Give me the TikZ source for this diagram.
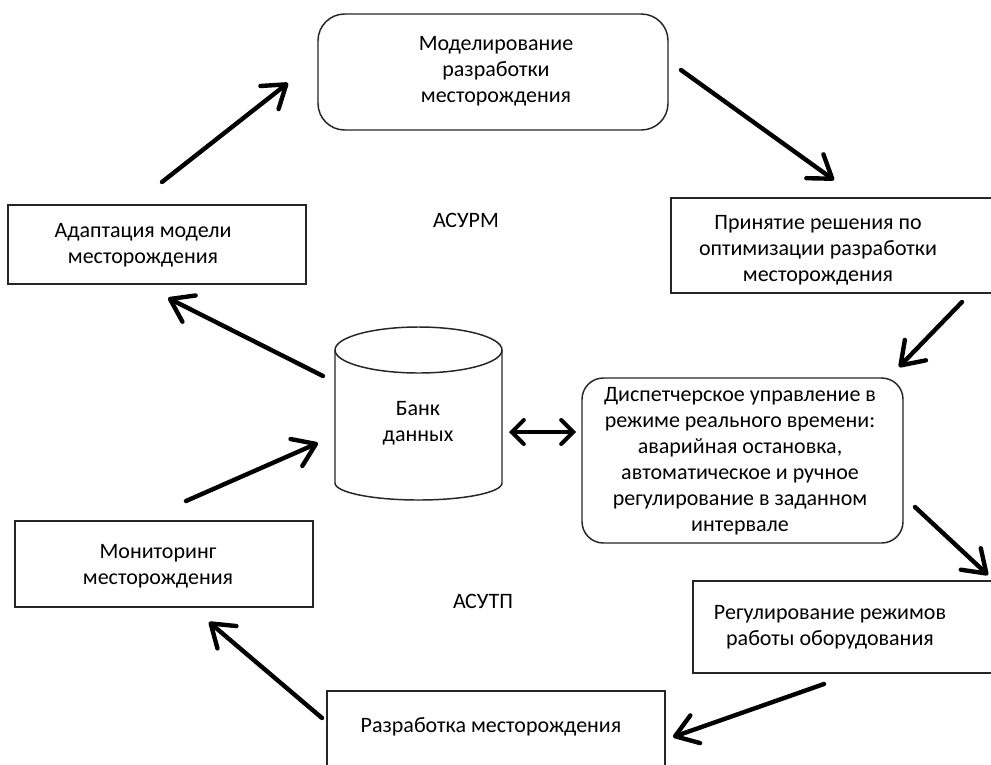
\documentclass[tikz,border=0pt]{standalone}
\usepackage{fontspec}
\setmainfont{Carlito}
\usetikzlibrary{arrows.meta}
\begin{document}
\begin{tikzpicture}[x=0.75pt,y=-0.75pt,
  box/.style={draw=black!85, line width=1.1pt, inner sep=0pt},
  txt/.style={align=center, text=black, font=\fontsize{16.5}{19.5}\selectfont, inner sep=0pt},
  arr/.style={line width=3.3pt, line cap=round, -{Straight Barb[length=16pt,width=22pt,line cap=round,line join=round]}},
  darr/.style={line width=3pt, line cap=round, {Straight Barb[length=9pt,width=18pt,line cap=round]}-{Straight Barb[length=9pt,width=18pt,line cap=round]}}]
\clip (0,0) rectangle (991,764);
\fill[white] (0,0) rectangle (991,764);

% boxes
\node[box, rounded corners=20pt, minimum width=262.5pt, minimum height=87pt] (model) at (493,72) {};
\node[box, minimum width=223.5pt, minimum height=59.25pt] (adapt) at (157,244.5) {};
\node[box, minimum width=243pt, minimum height=71.25pt] (decide) at (833,245.5) {};
\node[box, rounded corners=16pt, minimum width=240.75pt, minimum height=123.75pt] (disp) at (742.5,460.5) {};
\node[box, minimum width=223.5pt, minimum height=64.5pt] (monit) at (164,564) {};
\node[box, minimum width=226.5pt, minimum height=69pt] (regul) at (844,627) {};
\node[box, minimum width=253.5pt, minimum height=63pt] (devel) at (496,733) {};

% cylinder
\draw[draw=black!85, line width=1.1pt] (335,350) -- (335,483)
  arc[start angle=180, end angle=0, x radius=83.5, y radius=17] -- (502,350);
\draw[draw=black!85, line width=1.1pt] (418.5,350) ellipse[x radius=83.5, y radius=23];
\node[txt] (bank) at (418,423) {Банк\\данных};

% texts
\node[txt] (tmodel) at (496,71) {Моделирование\\разработки\\месторождения};
\node[txt] (tadapt) at (143,245.5) {Адаптация модели\\месторождения};
\node[txt] (tdecide) at (818,250) {Принятие решения по\\оптимизации разработки\\месторождения};
\node[txt] (tdisp) at (740,461) {Диспетчерское управление в\\режиме реального времени:\\аварийная остановка,\\автоматическое и ручное\\регулирование в заданном\\интервале};
\node[txt] (tmonit) at (158,566.5) {Мониторинг\\месторождения};
\node[txt] (tregul) at (830,627) {Регулирование режимов\\работы оборудования};
\node[txt] (tdevel) at (491,727) {Разработка месторождения};
\node[txt] (asurm) at (466,220) {АСУРМ};
\node[txt] (asutp) at (483,601) {АСУТП};

% arrow end points
\coordinate (a1s) at (162,182); \coordinate (a1e) at (288,83);
\coordinate (a2s) at (681,70);  \coordinate (a2e) at (834,180);
\coordinate (a3s) at (962,302); \coordinate (a3e) at (899,367);
\coordinate (a4s) at (915,507); \coordinate (a4e) at (988,575);
\coordinate (a5s) at (824,684); \coordinate (a5e) at (673,737);
\coordinate (a6s) at (322,718); \coordinate (a6e) at (209,622);
\coordinate (a7s) at (186,501); \coordinate (a7e) at (318,443);
\coordinate (a8s) at (323,376); \coordinate (a8e) at (168,298);
\coordinate (a9s) at (509,432); \coordinate (a9e) at (576,432);

\draw[arr] (a1s) -- (a1e);
\draw[arr] (a2s) -- (a2e);
\draw[arr] (a3s) -- (a3e);
\draw[arr] (a4s) -- (a4e);
\draw[arr] (a5s) -- (a5e);
\draw[arr] (a6s) -- (a6e);
\draw[arr] (a7s) -- (a7e);
\draw[arr] (a8s) -- (a8e);
\draw[darr] (a9s) -- (a9e);
\end{tikzpicture}
\end{document}
